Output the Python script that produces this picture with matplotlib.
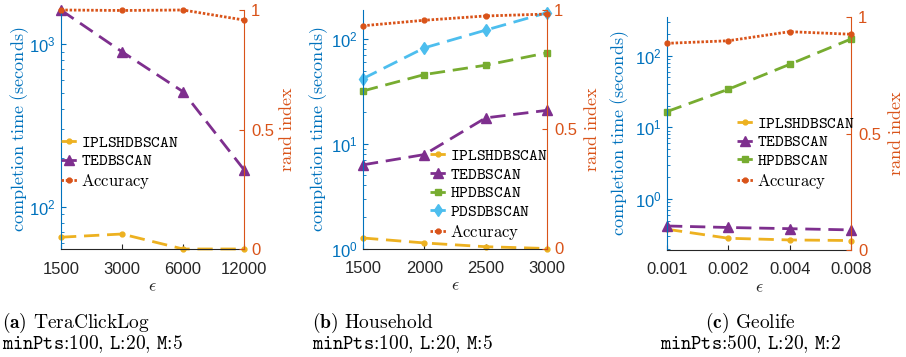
import numpy as np
import matplotlib
matplotlib.use("Agg")
from matplotlib import pyplot as plt
from matplotlib.ticker import NullLocator, FixedLocator, FixedFormatter

plt.rcParams['font.family'] = ['Liberation Sans', 'DejaVu Sans']
plt.rcParams['mathtext.fontset'] = 'custom'
plt.rcParams['mathtext.rm'] = 'Liberation Sans'
plt.rcParams['mathtext.it'] = 'Liberation Sans:italic'
plt.rcParams['mathtext.bf'] = 'Liberation Sans:bold'

# colours (MATLAB default order)
BLUE = '#0072BD'
ORANGE = '#D95319'
YELLOW = '#EDB120'
PURPLE = '#7E2F8E'
GREEN = '#77AC30'
LBLUE = '#4DBEEE'
DARK = '#262626'

# (a) TeraClickLog
eps_a = [1500, 3000, 6000, 12000]
ipl_a = [65, 68, 55, 55]
ted_a = [1617, 897, 510, 169]
acc_a = [1.0, 0.998, 1.0, 0.958]

# (b) Household
eps_b = [1500, 2000, 2500, 3000]
ipl_b = [1.26, 1.13, 1.04, 1.0]
ted_b = [6.3, 7.9, 17.7, 20.9]
hpd_b = [32, 45.9, 56.4, 74]
pds_b = [42, 82.6, 122, 179]
acc_b = [0.934, 0.957, 0.975, 0.983]

# (c) Geolife
eps_c = [0.001, 0.002, 0.004, 0.008]
ipl_c = [0.378, 0.283, 0.268, 0.263]
ted_c = [0.42, 0.40, 0.385, 0.37]
hpd_c = [16.6, 34, 75.8, 171]
acc_c = [0.887, 0.898, 0.937, 0.926]

xtick_a = ['1500', '3000', '6000', '12000']
xtick_c = ['0.001', '0.002', '0.004', '0.008']

captions = [
    (r'$\mathbf{(a)}$ TeraClickLog', r'$\mathtt{minPts}$:100, $\mathtt{L}$:20, $\mathtt{M}$:5'),
    (r'$\mathbf{(b)}$ Household', r'$\mathtt{minPts}$:100, $\mathtt{L}$:20, $\mathtt{M}$:5'),
    (r'$\mathbf{(c)}$ Geolife', r'$\mathtt{minPts}$:500, $\mathtt{L}$:20, $\mathtt{M}$:2'),
]

FS = 12
DASH = (5.5, 2.8)
DOTS = (0.9, 0.65)

fig = plt.figure(figsize=(9.06, 3.57), dpi=100)
W, H = 906.0, 357.0


def make_axes(l, r, t, b):
    return fig.add_axes([l / W, 1 - b / H, (r - l) / W, (b - t) / H])


def style(ax, ax2):
    ax.set_yscale('log')
    for s in ['top', 'right']:
        ax.spines[s].set_visible(False)
    for s in ['top', 'left', 'bottom']:
        ax2.spines[s].set_visible(False)
    ax.spines['left'].set_color(BLUE)
    ax.spines['bottom'].set_color(DARK)
    ax2.spines['right'].set_color(ORANGE)
    ax.tick_params(axis='y', which='both', direction='in', colors=BLUE, labelsize=FS, pad=4)
    ax.tick_params(axis='y', which='major', length=3.5)
    ax.tick_params(axis='y', which='minor', length=2)
    ax.tick_params(axis='x', which='both', direction='in', colors=DARK, labelsize=FS,
                   length=3.5, pad=9)
    ax2.tick_params(axis='y', direction='in', colors=ORANGE, labelsize=FS, length=3.5, pad=5)
    ax2.set_ylim(0, 1)
    ax2.set_yticks([0, 0.5, 1])
    ax2.set_yticklabels(['0', '0.5', '1'])
    ax.set_ylabel(r'$\mathrm{completion\ time\ (seconds)}$', color=BLUE, fontsize=13,
                  math_fontfamily='cm')
    ax2.set_ylabel(r'$\mathrm{rand\ index}$', color=ORANGE, fontsize=13, math_fontfamily='cm')
    ax.set_xlabel(r'$\epsilon$', fontsize=13, math_fontfamily='cm', color=DARK, labelpad=1)


def draw_lines(ax, ax2, eps, series, acc):
    handles = []
    for vals, color, mk, ms, name in series:
        h, = ax.plot(eps, vals, color=color, lw=2, dashes=DASH, marker=mk, ms=ms,
                     label=r'$\mathtt{' + name + '}$', clip_on=False)
        handles.append(h)
    h, = ax2.plot(eps, acc, color=ORANGE, lw=2, dashes=DOTS, marker='.', ms=7,
                  label=r'$\mathrm{Accuracy}$', clip_on=False)
    handles.append(h)
    return handles


def legend(ax2, handles, x, y):
    leg = ax2.legend(handles=handles, loc='center left', bbox_to_anchor=(x, y),
                     frameon=False, fontsize=12, handlelength=0.95, handletextpad=0.25,
                     labelspacing=0.22, borderpad=0, borderaxespad=0)
    for t in leg.get_texts():
        t.set_math_fontfamily('cm')


# ---- (a)
ax = make_axes(61, 244, 10, 249)
ax2 = ax.twinx()
style(ax, ax2)
hs = draw_lines(ax, ax2, eps_a,
                [(ipl_a, YELLOW, '.', 7, 'IPLSHDBSCAN'),
                 (ted_a, PURPLE, '^', 7, 'TEDBSCAN')], acc_a)
ax.set_xscale('log', base=2)
ax.set_xlim(eps_a[0], eps_a[-1])
ax.xaxis.set_major_locator(FixedLocator(eps_a))
ax.xaxis.set_major_formatter(FixedFormatter(xtick_a))
ax.xaxis.set_minor_locator(NullLocator())
ax.set_ylim(55, 1620)
legend(ax2, hs, 0.0, 0.36)
ax.yaxis.set_label_coords(-0.162, 0.5)
ax2.yaxis.set_label_coords(1.19, 0.5)

# ---- (b)
ax = make_axes(363, 547, 10, 248.5)
ax2 = ax.twinx()
style(ax, ax2)
hs = draw_lines(ax, ax2, eps_b,
                [(ipl_b, YELLOW, '.', 7, 'IPLSHDBSCAN'),
                 (ted_b, PURPLE, '^', 7, 'TEDBSCAN'),
                 (hpd_b, GREEN, 's', 5, 'HPDBSCAN'),
                 (pds_b, LBLUE, 'd', 6, 'PDSDBSCAN')], acc_b)
ax.set_xlim(eps_b[0], eps_b[-1])
ax.set_xticks(eps_b)
ax.set_ylim(1, 190)
legend(ax2, hs, 0.364, 0.225)
ax.yaxis.set_label_coords(-0.182, 0.5)
ax2.yaxis.set_label_coords(1.2, 0.5)

# ---- (c)
ax = make_axes(667, 851, 17, 250)
ax2 = ax.twinx()
style(ax, ax2)
hs = draw_lines(ax, ax2, eps_c,
                [(ipl_c, YELLOW, '.', 7, 'IPLSHDBSCAN'),
                 (ted_c, PURPLE, '^', 7, 'TEDBSCAN'),
                 (hpd_c, GREEN, 's', 5, 'HPDBSCAN')], acc_c)
ax.set_xscale('log', base=2)
ax.set_xlim(eps_c[0], eps_c[-1])
ax.xaxis.set_major_locator(FixedLocator(eps_c))
ax.xaxis.set_major_formatter(FixedFormatter(xtick_c))
ax.xaxis.set_minor_locator(NullLocator())
ax.set_ylim(0.194, 347)
legend(ax2, hs, 0.38, 0.415)
ax.yaxis.set_label_coords(-0.193, 0.5)
ax2.yaxis.set_label_coords(1.2, 0.5)

# captions
cap_kw = dict(fontsize=14, fontfamily='cmr10', math_fontfamily='cm', va='center')
fig.text(2 / W, 1 - 323 / H, captions[0][0], ha='left', **cap_kw)
fig.text(2 / W, 1 - 344 / H, captions[0][1], ha='left', **cap_kw)
fig.text(312 / W, 1 - 323 / H, captions[1][0], ha='left', **cap_kw)
fig.text(312 / W, 1 - 344 / H, captions[1][1], ha='left', **cap_kw)
fig.text(750 / W, 1 - 323 / H, captions[2][0], ha='center', **cap_kw)
fig.text(750 / W, 1 - 344 / H, captions[2][1], ha='center', **cap_kw)

fig.savefig('out.png', dpi=100)
